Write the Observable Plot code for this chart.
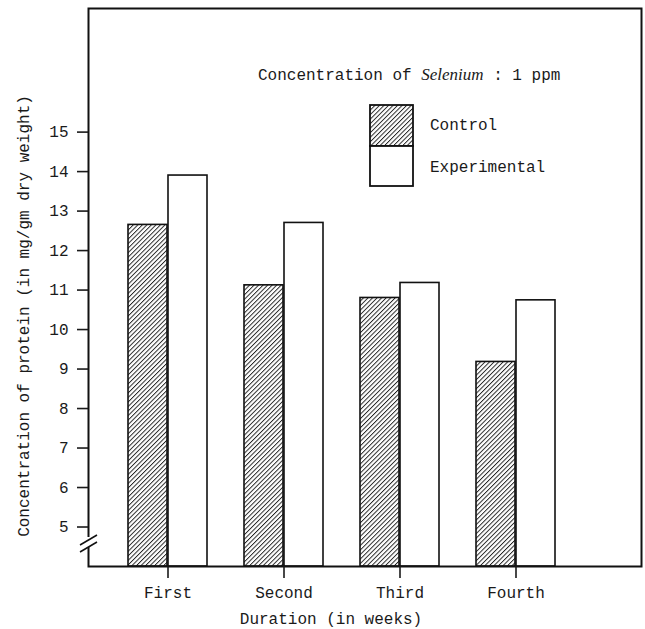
<!DOCTYPE html>
<html>
<head>
<meta charset="utf-8">
<script src="https://cdn.jsdelivr.net/npm/d3@7"></script>
<script src="https://cdn.jsdelivr.net/npm/@observablehq/plot@0.6"></script>
<style>
  html, body { margin: 0; padding: 0; background: #fff; }
  #chart { position: relative; width: 645px; height: 629px; }
</style>
</head>
<body>
<svg width="0" height="0" style="position:absolute">
  <defs>
    <pattern id="hatch" patternUnits="userSpaceOnUse" width="3.2" height="3.2" patternTransform="rotate(45)">
      <rect width="3.2" height="3.2" fill="#fff"></rect>
      <line x1="0" y1="0" x2="0" y2="3.2" stroke="#222" stroke-width="1.9"></line>
    </pattern>
  </defs>
</svg>
<div id="chart"></div>
<script>
const weeks = ["First", "Second", "Third", "Fourth"];
const control = [12.65, 11.12, 10.8, 9.18];
const experimental = [13.9, 12.7, 11.18, 10.74];
const yTicks = [5, 6, 7, 8, 9, 10, 11, 12, 13, 14, 15];
const yMin = 4;
const yMax = 18.13;
const seriesLabels = ["Control", "Experimental"];
const yLabel = "Concentration of protein (in mg/gm dry weight)";
const xLabel = "Duration (in weeks)";

const rows = weeks.map((w, i) => ({week: w, control: control[i], experimental: experimental[i]}));

const W = 645, H = 629;
const mL = 88, mR = 4, mT = 8, mB = 63;
const font = "'Liberation Mono', 'DejaVu Sans Mono', monospace";

const plot = Plot.plot({
  width: W,
  height: H,
  marginLeft: mL,
  marginRight: mR,
  marginTop: mT,
  marginBottom: mB,
  style: {fontFamily: font, fontSize: "16px", color: "#1a1a1a", background: "#fff"},
  x: {domain: weeks, range: [108.6, 575.4], paddingInner: 0.315, paddingOuter: 0.1575, label: null},
  y: {domain: [yMin, yMax], label: null},
  marks: [
    Plot.barY(rows, {x: "week", y1: () => yMin, y2: "control", fill: "url(#hatch)", stroke: "#111", strokeWidth: 1.6, insetRight: 40}),
    Plot.barY(rows, {x: "week", y1: () => yMin, y2: "experimental", fill: "#fff", stroke: "#111", strokeWidth: 1.6, insetLeft: 40}),
    Plot.frame({stroke: "#111", strokeWidth: 2}),
    Plot.axisY({ticks: yTicks, tickSize: 11, tickPadding: 9, tickFormat: d => String(d), label: null, strokeWidth: 1.6}),
    Plot.axisX({tickSize: 12, tickPadding: 8, label: null, strokeWidth: 1.6})
  ]
});

document.getElementById("chart").appendChild(plot);

const svg = d3.select(plot);

// axis break on the left axis
svg.append("rect").attr("x", 84).attr("y", 537).attr("width", 8).attr("height", 10).attr("fill", "#fff");
svg.append("line").attr("x1", 80).attr("y1", 545).attr("x2", 97).attr("y2", 535).attr("stroke", "#111").attr("stroke-width", 1.6);
svg.append("line").attr("x1", 80).attr("y1", 552).attr("x2", 97).attr("y2", 542).attr("stroke", "#111").attr("stroke-width", 1.6);

// y label
svg.append("text")
  .attr("transform", "translate(25,316) rotate(-90)")
  .attr("text-anchor", "middle")
  .attr("dominant-baseline", "middle")
  .attr("font-family", font)
  .attr("font-size", 16)
  .attr("fill", "#1a1a1a")
  .text(yLabel);

// x label
svg.append("text")
  .attr("x", 331)
  .attr("y", 624)
  .attr("text-anchor", "middle")
  .attr("font-family", font)
  .attr("font-size", 16)
  .attr("fill", "#1a1a1a")
  .text(xLabel);

// legend
const title = svg.append("text")
  .attr("x", 258)
  .attr("y", 80)
  .attr("text-anchor", "start")
  .attr("font-family", font)
  .attr("font-size", 16)
  .attr("fill", "#1a1a1a");
title.append("tspan").text("Concentration of ");
title.append("tspan").attr("font-family", "'Liberation Serif', 'DejaVu Serif', serif").attr("font-style", "italic").attr("font-size", 17).text("Selenium");
title.append("tspan").text(" : 1 ppm");

svg.append("rect").attr("x", 370).attr("y", 105).attr("width", 43).attr("height", 41)
  .attr("fill", "url(#hatch)").attr("stroke", "#111").attr("stroke-width", 1.8);
svg.append("rect").attr("x", 370).attr("y", 146).attr("width", 43).attr("height", 40)
  .attr("fill", "#fff").attr("stroke", "#111").attr("stroke-width", 1.8);
svg.append("text").attr("x", 430).attr("y", 130).attr("text-anchor", "start").attr("font-family", font).attr("font-size", 16).attr("fill", "#1a1a1a").text(seriesLabels[0]);
svg.append("text").attr("x", 430).attr("y", 172).attr("text-anchor", "start").attr("font-family", font).attr("font-size", 16).attr("fill", "#1a1a1a").text(seriesLabels[1]);
</script>
</body>
</html>
